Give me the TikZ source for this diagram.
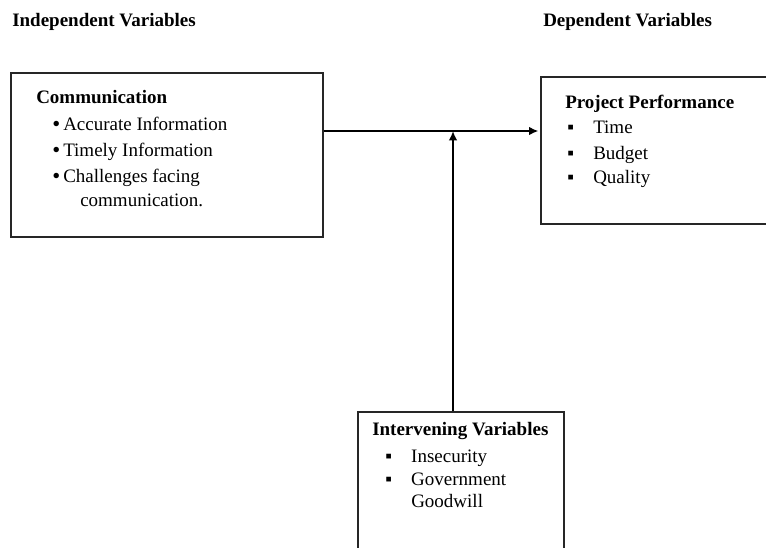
\documentclass[tikz,border=0pt]{standalone}
\usepackage{fontspec}
\setmainfont{Liberation Serif}
\usetikzlibrary{arrows.meta,positioning}
\tikzset{
  frame/.style={draw=black!85, line width=0.9pt, fill=none, inner sep=0pt},
  txt/.style={anchor=base west, inner sep=0pt, text=black},
  flow/.style={-{Latex[length=7pt,width=6.5pt]}, line width=1.5pt, draw=black}
}
\newcommand{\sqitem}[1]{\makebox[19.5pt][l]{▪}#1}
\newcommand{\dotitem}[1]{\makebox[8.25pt][l]{\raisebox{-1.3pt}{\fontsize{17}{19.5}\selectfont•}}#1}

\begin{document}
\begin{tikzpicture}[x=0.75pt, y=-0.75pt, font=\fontsize{14.25}{19.5}\selectfont]
  \useasboundingbox (0,0) rectangle (766,547);

  % column headings
  \node[txt] (indep) at (12,26) {\textbf{Independent Variables}};
  \node[txt] (dep) at (543,26) {\textbf{Dependent Variables}};

  % independent variable
  \node[frame, minimum width=234pt, minimum height=123pt] (comm) at (167,155) {};
  \node[txt] (commhead) at (36,103) {\textbf{Communication}};
  \node[txt] (comm1) at (52,130) {\dotitem{Accurate Information}};
  \node[txt] (comm2) at (52,156) {\dotitem{Timely Information}};
  \node[txt] (comm3) at (52,182) {\dotitem{Challenges facing}};
  \node[txt] (comm4) at (80,206) {communication.};

  % dependent variable
  \node[frame, minimum width=194.25pt, minimum height=110.25pt] (perf) at (670.5,150.5) {};
  \node[txt] (perfhead) at (565,108) {\textbf{Project Performance}};
  \node[txt] (perf1) at (567,133) {\sqitem{Time}};
  \node[txt] (perf2) at (567,159) {\sqitem{Budget}};
  \node[txt] (perf3) at (567,183) {\sqitem{Quality}};

  % intervening variables
  \node[frame, minimum width=154.5pt, minimum height=111pt] (inter) at (461,486) {};
  \node[txt] (interhead) at (372,435) {\textbf{Intervening Variables}};
  \node[txt] (inter1) at (385,462) {\sqitem{Insecurity}};
  \node[txt] (inter2) at (385,485) {\sqitem{Government}};
  \node[txt] (inter3) at (411,507) {Goodwill};

  % connectors
  \coordinate (meet) at (453,131);
  \draw[flow, shorten >=1.5pt] (comm.east |- meet) -- (perf.west |- meet);
  \draw[flow] (inter.north -| meet) -- (meet);
\end{tikzpicture}
\end{document}
